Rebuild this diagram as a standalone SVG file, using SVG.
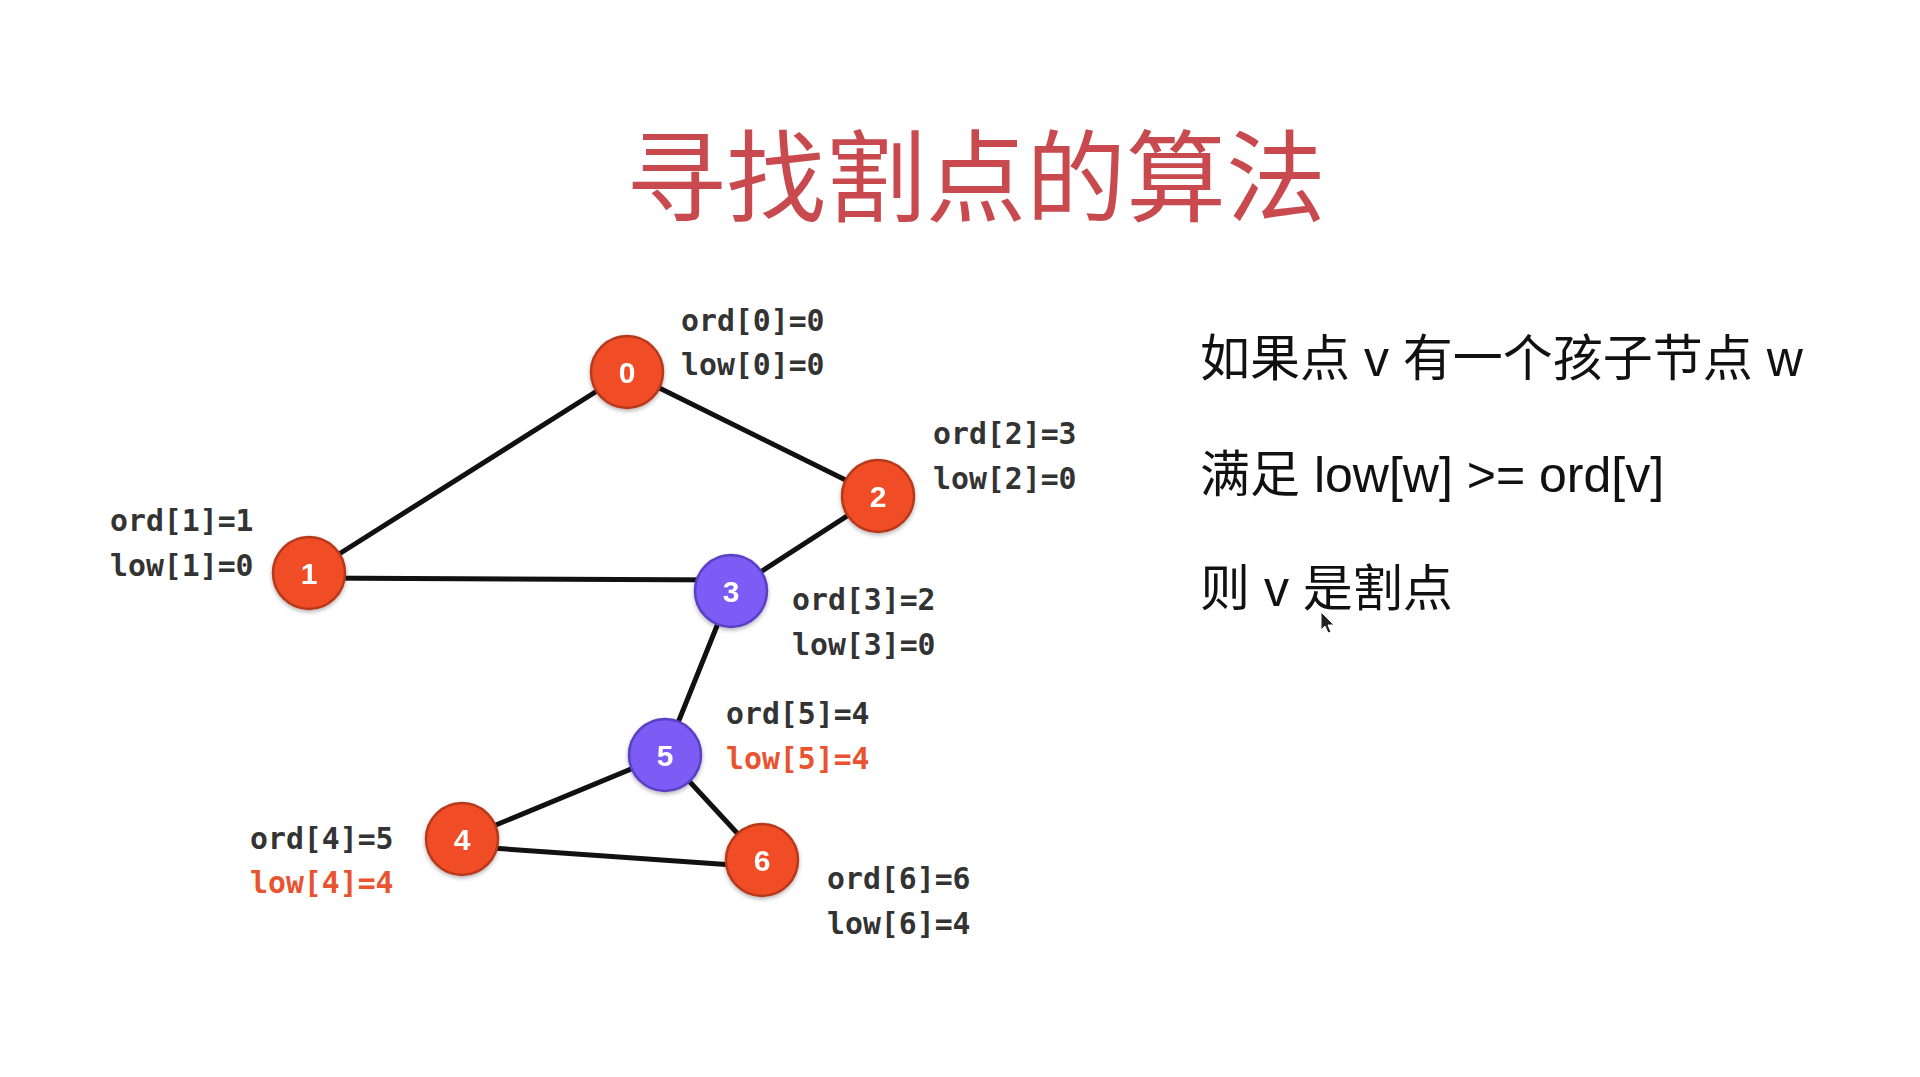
<svg xmlns="http://www.w3.org/2000/svg" width="1920" height="1077" viewBox="0 0 1920 1077">
  <defs>
    <style>
      .title { font-family: "Noto Sans CJK SC", "Liberation Sans", sans-serif; font-size: 100px; fill: #C84A4E; }
      .edge { stroke: #111; stroke-width: 5; stroke-linecap: round; fill: none; }
      .red circle { fill: #F04E25; stroke: #B8391A; stroke-width: 2.5; }
      .blue circle { fill: #7B5BF5; stroke: #5A3FC4; stroke-width: 2.5; }
      .num { font-family: "Liberation Sans", "DejaVu Sans", sans-serif; font-weight: bold; font-size: 30px; fill: #fff; text-anchor: middle; }
      .lbl { font-family: "DejaVu Sans Mono", "Liberation Mono", monospace; font-weight: bold; font-size: 29.8px; fill: #333; }
      .hot { fill: #E9532F; }
      .rule { font-family: "Liberation Sans", "Noto Sans CJK SC", sans-serif; font-size: 50px; fill: #111; }
    </style>
    <filter id="shade" x="-30%" y="-30%" width="160%" height="160%">
      <feDropShadow dx="0" dy="2" stdDeviation="2" flood-color="#000" flood-opacity="0.3"/>
    </filter>
  </defs>

  <rect width="1920" height="1077" fill="#fff"/>

  <text class="title" x="976" y="214" text-anchor="middle">寻找割点的算法</text>

  <!-- connectors -->
  <g id="edges">
    <line class="edge" x1="627" y1="372" x2="309" y2="573"/>
    <line class="edge" x1="627" y1="372" x2="878" y2="496"/>
    <line class="edge" x1="309" y1="578" x2="731" y2="580"/>
    <line class="edge" x1="878" y1="496" x2="731" y2="591"/>
    <line class="edge" x1="731" y1="591" x2="665" y2="755"/>
    <line class="edge" x1="665" y1="755" x2="462" y2="839"/>
    <line class="edge" x1="665" y1="755" x2="762" y2="860"/>
    <line class="edge" x1="462" y1="846" x2="762" y2="867"/>
  </g>

  <!-- vertices -->
  <g id="node-0" class="red" filter="url(#shade)">
    <circle cx="627" cy="372" r="36"/>
    <text class="num" x="627" y="383">0</text>
  </g>
  <g id="node-1" class="red" filter="url(#shade)">
    <circle cx="309" cy="573" r="36"/>
    <text class="num" x="309" y="584">1</text>
  </g>
  <g id="node-2" class="red" filter="url(#shade)">
    <circle cx="878" cy="496" r="36"/>
    <text class="num" x="878" y="507">2</text>
  </g>
  <g id="node-3" class="blue" filter="url(#shade)">
    <circle cx="731" cy="591" r="36"/>
    <text class="num" x="731" y="602">3</text>
  </g>
  <g id="node-5" class="blue" filter="url(#shade)">
    <circle cx="665" cy="755" r="36"/>
    <text class="num" x="665" y="766">5</text>
  </g>
  <g id="node-4" class="red" filter="url(#shade)">
    <circle cx="462" cy="839" r="36"/>
    <text class="num" x="462" y="850">4</text>
  </g>
  <g id="node-6" class="red" filter="url(#shade)">
    <circle cx="762" cy="860" r="36"/>
    <text class="num" x="762" y="871">6</text>
  </g>

  <!-- ord / low annotations -->
  <g id="labels">
    <text class="lbl" x="681" y="331">ord[0]=0</text>
    <text class="lbl" x="681" y="375">low[0]=0</text>
    <text class="lbl" x="933" y="444">ord[2]=3</text>
    <text class="lbl" x="933" y="489">low[2]=0</text>
    <text class="lbl" x="110" y="531">ord[1]=1</text>
    <text class="lbl" x="110" y="576">low[1]=0</text>
    <text class="lbl" x="792" y="610">ord[3]=2</text>
    <text class="lbl" x="792" y="655">low[3]=0</text>
    <text class="lbl" x="726" y="724">ord[5]=4</text>
    <text class="lbl hot" x="726" y="769">low[5]=4</text>
    <text class="lbl" x="250" y="849">ord[4]=5</text>
    <text class="lbl hot" x="250" y="893">low[4]=4</text>
    <text class="lbl" x="827" y="889">ord[6]=6</text>
    <text class="lbl" x="827" y="934">low[6]=4</text>
  </g>

  <!-- rule text -->
  <g id="rule">
    <text class="rule" x="1200" y="376">如果点 v 有一个孩子节点 w</text>
    <text class="rule" x="1200" y="492">满足 low[w] &gt;= ord[v]</text>
    <text class="rule" x="1200" y="606">则 v 是割点</text>
  </g>

  <!-- pointer -->
  <polygon points="1321,612 1321,630 1325,626 1328,633 1331,632 1328,625 1334,625" fill="#222" stroke="#fff" stroke-width="1"/>
</svg>
